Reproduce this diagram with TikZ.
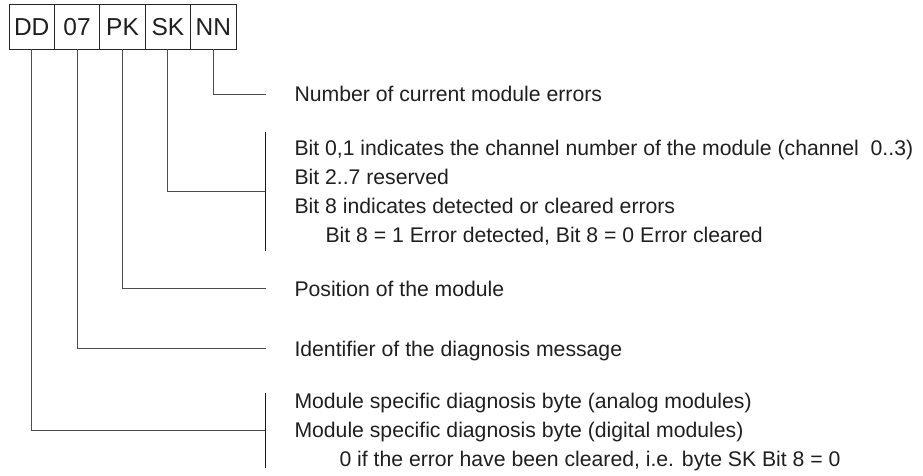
\documentclass[tikz,border=0pt]{standalone}
\usepackage{fontspec}
\setmainfont{Liberation Sans}
\begin{document}
\begin{tikzpicture}[x=1pt,y=-1pt,
  field/.style={draw=black!85,line width=0.9pt,minimum width=45.4pt,minimum height=45.3pt,
    inner sep=0pt,outer sep=0pt,font=\fontsize{24.5}{28}\selectfont,text=black!88},
  lbl/.style={anchor=base west,inner sep=0pt,outer sep=0pt,font=\fontsize{21.2}{25}\selectfont,text=black!88},
  conn/.style={draw=black!70,line width=0.9pt},
  brk/.style={draw=black!90,line width=0.9pt}]
\useasboundingbox (0,0) rectangle (923,475);
% fields
\node[field] (dd) at (31.7,26.7) {DD};
\node[field] (z7) at (77.1,26.7) {07};
\node[field] (pk) at (122.5,26.7) {PK};
\node[field] (sk) at (167.9,26.7) {SK};
\node[field] (nn) at (213.3,26.7) {NN};
% labels
\node[lbl] (tnn) at (294.5,101.6) {Number of current module errors};
\node[lbl] (tsk1) at (294.5,155.9) {Bit 0,1 indicates the channel number of the module (channel\ \ 0..3)};
\node[lbl] (tsk2) at (294.5,184.9) {Bit 2..7 reserved};
\node[lbl] (tsk3) at (294.5,213.9) {Bit 8 indicates detected or cleared errors};
\node[lbl] (tsk4) at (325.5,242.9) {Bit 8 = 1 Error detected, Bit 8 = 0 Error cleared};
\node[lbl] (tpk) at (294.5,296.0) {Position of the module};
\node[lbl] (tid) at (294.5,356.3) {Identifier of the diagnosis message};
\node[lbl] (tdd1) at (294.5,408.9) {Module specific diagnosis byte (analog modules)};
\node[lbl] (tdd2) at (294.5,437.8) {Module specific diagnosis byte (digital modules)};
\node[lbl] (tdd3) at (339.5,466.7) {0 if the error have been cleared, i.e. byte SK Bit 8 = 0};
% connector end points
\coordinate (enn) at (265.7,94.3);
\coordinate (esk) at (265.7,191.0);
\coordinate (skt) at (265.7,131.7);
\coordinate (skb) at (265.7,250.7);
\coordinate (epk) at (265.7,288.3);
\coordinate (eid) at (265.7,348.3);
\coordinate (edd) at (265.7,430.7);
\coordinate (ddt) at (265.7,393.3);
\coordinate (ddb) at (265.7,467.7);
% connectors
\draw[conn] (nn.south) |- (enn);
\draw[conn] (sk.south) |- (esk);
\draw[conn] (pk.south) |- (epk);
\draw[conn] (z7.south) |- (eid);
\draw[conn] (dd.south) |- (edd);
% brackets
\draw[brk] (skt) -- (skb);
\draw[brk] (ddt) -- (ddb);
\end{tikzpicture}
\end{document}
